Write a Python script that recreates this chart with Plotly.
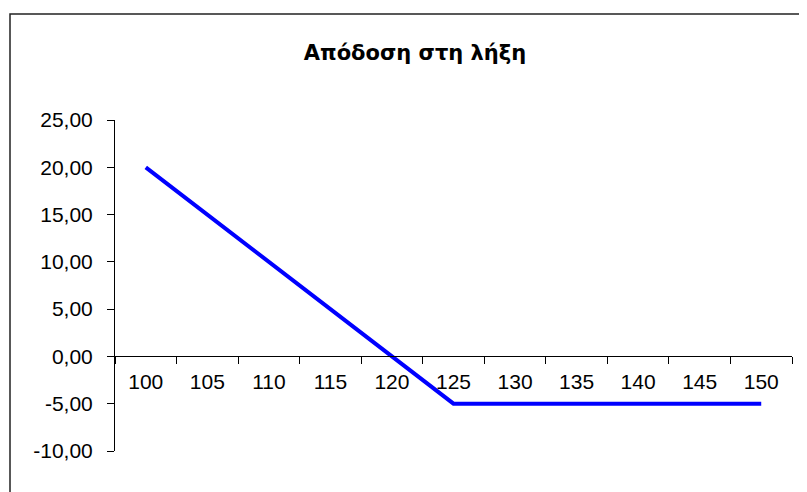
import plotly.graph_objects as go

title_text = "Απόδοση στη λήξη"
strikes = ["100", "105", "110", "115", "120", "125", "130", "135", "140", "145", "150"]
payoff = [20.0, 15.0, 10.0, 5.0, 0.0, -5.0, -5.0, -5.0, -5.0, -5.0, -5.0]
y_tick_vals = [-10, -5, 0, 5, 10, 15, 20, 25]
y_tick_text = ["-10,00", "-5,00", "0,00", "5,00", "10,00", "15,00", "20,00", "25,00"]

fig = go.Figure()
fig.add_trace(go.Scatter(
    x=strikes, y=payoff, mode="lines",
    line=dict(color="#0000FF", width=4),
    hoverinfo="x+y", showlegend=False,
))

font_family = "Liberation Sans, Arial, sans-serif"

# page body has an 8px margin, so figure is 8px smaller than the window
W, H = 799, 484
fig.update_layout(
    width=W, height=H,
    margin=dict(l=107, r=15, t=112, b=41),
    paper_bgcolor="white", plot_bgcolor="white",
    font=dict(family=font_family, size=21, color="#000000"),
    title=dict(
        text="<b>" + title_text + "</b>",
        x=(415 - 8) / W, xref="container", xanchor="center",
        y=1 - 45 / H, yref="container", yanchor="middle",
        font=dict(family="DejaVu Sans, Verdana, sans-serif", size=21, color="#000000"),
    ),
    xaxis=dict(
        type="category",
        range=[-0.5, 10.5],
        anchor="free", position=10 / 35,
        showline=True, linecolor="#000000", linewidth=1,
        ticks="outside", ticklen=7, tickcolor="#000000", tickwidth=1,
        tickson="boundaries",
        showgrid=False, zeroline=False,
        ticklabelstandoff=6,
        tickfont=dict(size=21),
    ),
    yaxis=dict(
        range=[-10, 25],
        tickvals=y_tick_vals, ticktext=y_tick_text,
        showline=True, linecolor="#000000", linewidth=1,
        ticks="outside", ticklen=7, tickcolor="#000000", tickwidth=1,
        showgrid=False, zeroline=False,
        ticklabelstandoff=10,
        tickfont=dict(size=21),
    ),
    shapes=[dict(
        type="rect", xref="paper", yref="paper",
        x0=(10 - 115) / 677, x1=(808 - 115) / 677,
        y0=(451 - 500) / 331, y1=(451 - 14) / 331,
        line=dict(color="#222222", width=1.5),
        fillcolor="rgba(0,0,0,0)", layer="below",
    )],
)

fig.write_html("out.html")
